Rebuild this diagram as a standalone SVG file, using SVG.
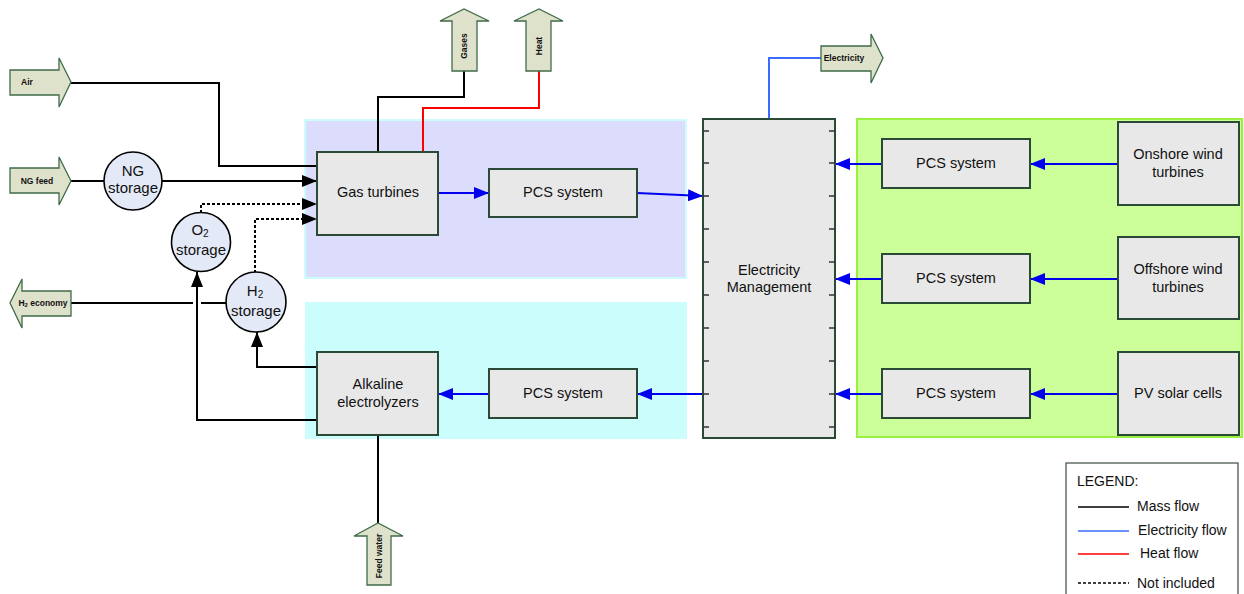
<svg xmlns="http://www.w3.org/2000/svg" width="1244" height="594" viewBox="0 0 1244 594">
<style>
.box{fill:#e8e8e8;stroke:#2b4a35;stroke-width:2}
.circ{fill:#e3e9f6;stroke:#000;stroke-width:1.6}
.io{fill:#dfe2cb;stroke:#3f6b4a;stroke-width:1.3}
.t{font-family:"Liberation Sans",Arial,sans-serif;font-size:14.5px;fill:#111;text-anchor:middle}
.tc{font-family:"Liberation Sans",Arial,sans-serif;font-size:15px;fill:#111;text-anchor:middle}
.s{font-family:"Liberation Sans",Arial,sans-serif;font-size:8.5px;font-weight:bold;fill:#111;text-anchor:middle}
.lg{font-family:"Liberation Sans",Arial,sans-serif;font-size:14px;fill:#111}
.m{fill:none;stroke:#000;stroke-width:2}
.d{fill:none;stroke:#000;stroke-width:2;stroke-dasharray:3,2}
.e{fill:none;stroke:#0000ee;stroke-width:2}
.el{fill:none;stroke:#3a6cff;stroke-width:2}
.h{fill:none;stroke:#ff0000;stroke-width:2}
.tick{stroke:#333;stroke-width:1.5}
</style>
<defs>
<marker id="ak" markerUnits="userSpaceOnUse" markerWidth="16" markerHeight="12" refX="15" refY="6" orient="auto"><path d="M0,0 L15,6 L0,12 z" fill="#000"/></marker>
<marker id="ab" markerUnits="userSpaceOnUse" markerWidth="16" markerHeight="12" refX="15" refY="6" orient="auto"><path d="M0,0 L15,6 L0,12 z" fill="#0000ee"/></marker>
</defs>
<rect width="1244" height="594" fill="#fff"/>
<g id="areas">
<rect x="305" y="120" width="381" height="158" fill="#dcdcfd" stroke="#ccfcfc" stroke-width="2"/>
<rect x="305" y="302" width="382" height="137" fill="#ccfdfd"/>
<rect x="857" y="119" width="385" height="318" fill="#ccfe99" stroke="#99f040" stroke-width="2"/>
</g>
<g id="connectors">
<polyline class="m" points="71,83 219,83 219,166 317,166"/>
<line class="m" x1="71" y1="181" x2="104" y2="181"/>
<line class="m" x1="162" y1="181" x2="317" y2="181" marker-end="url(#ak)"/>
<polyline class="d" points="201,213 201,204 317,204" marker-end="url(#ak)"/>
<polyline class="d" points="255,273 255,219 317,219" marker-end="url(#ak)"/>
<line class="m" x1="71" y1="303" x2="193" y2="303"/>
<line class="m" x1="201" y1="303" x2="226" y2="303"/>
<polyline class="m" points="317,420 197,420 197,272" marker-end="url(#ak)"/>
<polyline class="m" points="317,367 257,367 257,332" marker-end="url(#ak)"/>
<polyline class="m" points="378,152 378,97 464,97 464,71"/>
<polyline class="h" points="423,152 423,108 539,108 539,71"/>
<line class="m" x1="378" y1="435" x2="378" y2="523"/>
<line class="e" x1="438" y1="193" x2="489" y2="193" marker-end="url(#ab)"/>
<line class="e" x1="637" y1="193" x2="703" y2="196" marker-end="url(#ab)"/>
<line class="e" x1="703" y1="394" x2="637" y2="394" marker-end="url(#ab)"/>
<line class="e" x1="489" y1="394" x2="438" y2="394" marker-end="url(#ab)"/>
<polyline class="el" points="769,119 769,58 821,58"/>
<line class="e" x1="1118" y1="164" x2="1030" y2="164" marker-end="url(#ab)"/>
<line class="e" x1="882" y1="164" x2="835" y2="164" marker-end="url(#ab)"/>
<line class="e" x1="1118" y1="279" x2="1030" y2="279" marker-end="url(#ab)"/>
<line class="e" x1="882" y1="279" x2="835" y2="279" marker-end="url(#ab)"/>
<line class="e" x1="1118" y1="394" x2="1030" y2="394" marker-end="url(#ab)"/>
<line class="e" x1="882" y1="394" x2="835" y2="394" marker-end="url(#ab)"/>
</g>
<g id="air"><path class="io" d="M10,70 L59,70 L59,58 L71,82 L59,107 L59,95 L10,95 Z"/><text class="s" x="27" y="85">Air</text></g>
<g id="ngfeed"><path class="io" d="M10,168 L59,168 L59,157 L71,181 L59,205 L59,193 L10,193 Z"/><text class="s" x="37" y="184">NG feed</text></g>
<g id="h2economy"><path class="io" d="M71,291 L22,291 L22,279 L10,303 L22,328 L22,316 L71,316 Z"/><text class="s" x="43" y="306">H<tspan font-size="6" dy="1">2</tspan><tspan dy="-1"> economy</tspan></text></g>
<g id="gases"><path class="io" d="M452,71 L452,21 L440,21 L464,9 L489,21 L477,21 L477,71 Z"/><text class="s" transform="translate(467,46) rotate(-90)">Gases</text></g>
<g id="heat"><path class="io" d="M526,71 L526,21 L514,21 L539,9 L563,21 L551,21 L551,71 Z"/><text class="s" transform="translate(542,46) rotate(-90)">Heat</text></g>
<g id="electricity"><path class="io" d="M821,46 L871,46 L871,34 L883,58 L871,83 L871,71 L821,71 Z"/><text class="s" x="844" y="61">Electricity</text></g>
<g id="feedwater"><path class="io" d="M367,585 L367,536 L354,536 L378,523 L403,536 L391,536 L391,585 Z"/><text class="s" transform="translate(382,556) rotate(-90)">Feed water</text></g>
<g id="ngstorage"><circle class="circ" cx="133" cy="181" r="29"/><text class="tc" x="133" y="176">NG</text><text class="tc" x="133" y="193">storage</text></g>
<g id="o2storage"><circle class="circ" cx="201" cy="242" r="29.5"/><text class="tc" x="200" y="235">O<tspan font-size="10" dy="2">2</tspan></text><text class="tc" x="201" y="255">storage</text></g>
<g id="h2storage"><circle class="circ" cx="256" cy="302" r="30"/><text class="tc" x="255" y="296">H<tspan font-size="10" dy="2">2</tspan></text><text class="tc" x="256" y="316">storage</text></g>
<g id="gasturbines"><rect class="box" x="317" y="152" width="121" height="83"/><text class="t" x="378" y="197">Gas turbines</text></g>
<g id="pcs1"><rect class="box" x="489" y="169" width="148" height="48"/><text class="t" x="563" y="197">PCS system</text></g>
<g id="alkaline"><rect class="box" x="317" y="352" width="121" height="83"/><text class="t" x="378" y="389">Alkaline</text><text class="t" x="378" y="407">electrolyzers</text></g>
<g id="pcs2"><rect class="box" x="489" y="369" width="148" height="49"/><text class="t" x="563" y="398">PCS system</text></g>
<g id="elecmgmt"><rect class="box" x="703" y="119" width="132" height="319"/>
<g class="tick">
<line x1="703" y1="131" x2="709" y2="131"/><line x1="829" y1="131" x2="835" y2="131"/>
<line x1="703" y1="163" x2="709" y2="163"/><line x1="829" y1="163" x2="835" y2="163"/>
<line x1="703" y1="196" x2="709" y2="196"/><line x1="829" y1="196" x2="835" y2="196"/>
<line x1="703" y1="229" x2="709" y2="229"/><line x1="829" y1="229" x2="835" y2="229"/>
<line x1="703" y1="262" x2="709" y2="262"/><line x1="829" y1="262" x2="835" y2="262"/>
<line x1="703" y1="295" x2="709" y2="295"/><line x1="829" y1="295" x2="835" y2="295"/>
<line x1="703" y1="328" x2="709" y2="328"/><line x1="829" y1="328" x2="835" y2="328"/>
<line x1="703" y1="361" x2="709" y2="361"/><line x1="829" y1="361" x2="835" y2="361"/>
<line x1="703" y1="394" x2="709" y2="394"/><line x1="829" y1="394" x2="835" y2="394"/>
<line x1="703" y1="427" x2="709" y2="427"/><line x1="829" y1="427" x2="835" y2="427"/>
</g>
<text class="t" x="769" y="275">Electricity</text><text class="t" x="769" y="292">Management</text></g>
<g id="pcs3"><rect class="box" x="882" y="139" width="148" height="49"/><text class="t" x="956" y="168">PCS system</text></g>
<g id="pcs4"><rect class="box" x="882" y="254" width="148" height="49"/><text class="t" x="956" y="283">PCS system</text></g>
<g id="pcs5"><rect class="box" x="882" y="369" width="148" height="49"/><text class="t" x="956" y="398">PCS system</text></g>
<g id="onshore"><rect class="box" x="1118" y="122" width="121" height="83"/><text class="t" x="1178" y="159">Onshore wind</text><text class="t" x="1178" y="177">turbines</text></g>
<g id="offshore"><rect class="box" x="1118" y="237" width="121" height="82"/><text class="t" x="1178" y="274">Offshore wind</text><text class="t" x="1178" y="292">turbines</text></g>
<g id="pv"><rect class="box" x="1118" y="352" width="121" height="83"/><text class="t" x="1178" y="398">PV solar cells</text></g>
<g id="legend">
<rect x="1066" y="463" width="172" height="140" fill="#fff" stroke="#4a5a4e" stroke-width="1.3"/>
<text class="lg" x="1077" y="486">LEGEND:</text>
<line x1="1078" y1="507" x2="1129" y2="507" stroke="#000" stroke-width="1.5"/>
<text class="lg" x="1137" y="511">Mass flow</text>
<line x1="1078" y1="531" x2="1129" y2="531" stroke="#3a6cff" stroke-width="1.5"/>
<text class="lg" x="1138" y="535">Electricity flow</text>
<line x1="1078" y1="554" x2="1129" y2="554" stroke="#ff0000" stroke-width="1.5"/>
<text class="lg" x="1140" y="558">Heat flow</text>
<line x1="1078" y1="583" x2="1129" y2="583" stroke="#000" stroke-width="1.5" stroke-dasharray="3,2"/>
<text class="lg" x="1137" y="588">Not included</text>
</g>
</svg>
